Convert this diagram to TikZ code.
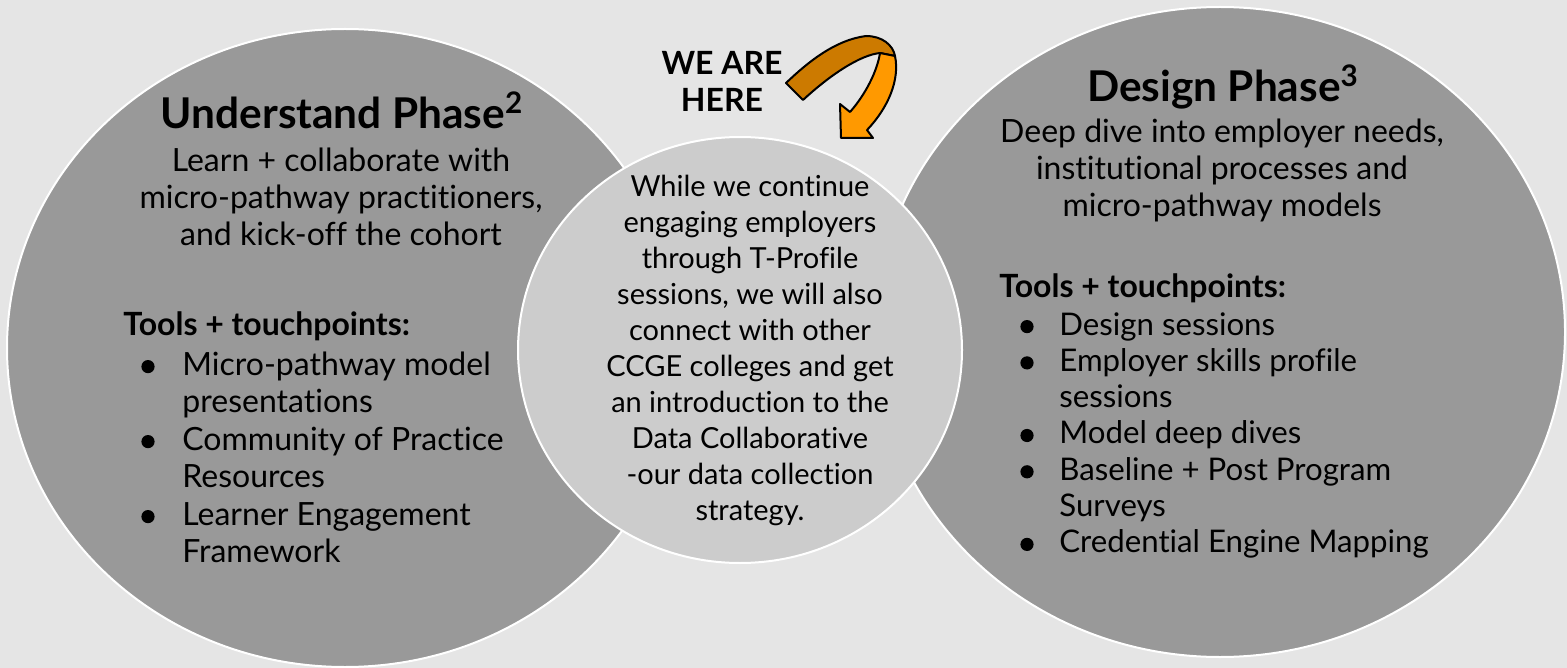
\documentclass[tikz,border=0pt]{standalone}
\usepackage{fontspec}
\setmainfont{Lato}[Ligatures=NoCommon]
\usepackage{xcolor}
\usepackage{tikz}
\usetikzlibrary{shapes.geometric,positioning}

\definecolor{bggray}{HTML}{E5E5E5}
\definecolor{phasegray}{HTML}{999999}
\definecolor{nowgray}{HTML}{CCCCCC}
\definecolor{arrowdark}{HTML}{CC7A00}
\definecolor{arrowlight}{HTML}{FF9900}

\newcommand{\bdot}{\tikz[baseline=-4.2pt]\fill[black] (0,0) circle (3.3pt);}

\tikzset{
	phase/.style={ellipse, draw=white, line width=1pt, inner sep=0pt},
	title/.style={font=\fontsize{21.2}{25}\selectfont\bfseries, inner sep=0pt, anchor=base},
	body/.style={font=\fontsize{16}{18.5}\selectfont, inner sep=0pt, anchor=base},
	tools/.style={font=\fontsize{16}{19}\selectfont\bfseries, inner sep=0pt, anchor=base west},
	arrowpart/.style={draw=black, line width=1pt, line join=round}
}

\begin{document}
\begin{tikzpicture}[x=0.5pt,y=-0.5pt]
	\fill[bggray] (0,0) rectangle (1567,668);
	\useasboundingbox (0,0) rectangle (1567,668);

	% \draw phase circles
	\node[phase, fill=phasegray, minimum width=338pt, minimum height=319pt] (understand) at (345,348) {};
	\node[phase, fill=phasegray, minimum width=345pt, minimum height=325pt] (design) at (1220,332) {};
	\node[phase, fill=nowgray, minimum width=222pt, minimum height=213pt] (now) at (740,350) {};

	% \draw understand texts
	\node[title] (understandTitle) at (342,129) {Understand Phase\textsuperscript{2}};
	\node[body] (understandText) at (341,172) {\begin{tabular}[t]{@{}c@{}}
		Learn + collaborate with\\
		micro-pathway practitioners,\\
		and kick-off the cohort
		\end{tabular}};
	\node[tools] (understandTools) at (123,335) {Tools + touchpoints:};
	\node[body, anchor=base west, font=\fontsize{16}{18.75}\selectfont] (understandList) at (141,375) {%
		\begin{tabular}[t]{@{}p{20.5pt}@{}l@{}}
		\bdot & Micro-pathway model\\
		      & presentations\\
		\bdot & Community of Practice\\
		      & Resources\\
		\bdot & Learner Engagement\\
		      & Framework
		\end{tabular}};

	% \draw design texts
	\node[title] (designTitle) at (1223,102) {Design Phase\textsuperscript{3}};
	\node[body] (designText) at (1222,143) {\begin{tabular}[t]{@{}c@{}}
		Deep dive into employer needs,\\
		institutional processes and\\
		micro-pathway models
		\end{tabular}};
	\node[tools] (designTools) at (999,297) {Tools + touchpoints:};
	\node[body, anchor=base west, font=\fontsize{15.6}{18.15}\selectfont] (designList) at (1020,335) {%
		\begin{tabular}[t]{@{}p{19.5pt}@{}l@{}}
		\bdot & Design sessions\\
		\bdot & Employer skills profile\\
		      & sessions\\
		\bdot & Model deep dives\\
		\bdot & Baseline + Post Program\\
		      & Surveys\\
		\bdot & Credential Engine Mapping
		\end{tabular}};

	% \draw middle text
	\node[body, font=\fontsize{14.5}{17.95}\selectfont] (nowText) at (750,197) {\begin{tabular}[t]{@{}c@{}}
		While we continue\\
		engaging employers\\
		through T-Profile\\
		sessions, we will also\\
		connect with other\\
		CCGE colleges and get\\
		an introduction to the\\
		Data Collaborative\\
		-our data collection\\
		strategy.
		\end{tabular}};

	% \draw we are here
	\node[body, font=\fontsize{16}{18.5}\selectfont\bfseries] (hereLabel) at (722,75) {\begin{tabular}[t]{@{}c@{}}
		WE ARE\\
		HERE
		\end{tabular}};

	\coordinate (tailA) at (786,83);
	\coordinate (tailB) at (803,100);
	\coordinate (foldIn) at (880,53);
	\coordinate (foldOut) at (895,56);
	\coordinate (notchL) at (850,112);
	\coordinate (barbL) at (840,104);
	\coordinate (tip) at (841,138);
	\coordinate (barbR) at (873,138);
	\coordinate (notchR) at (867,130);

	% \draw curved arrow
	\draw[arrowpart, fill=arrowdark] (tailA) .. controls (808,62) and (835,40) .. (866,36)
		.. controls (882,36) and (893,45) .. (foldOut) -- (foldIn)
		.. controls (860,55) and (830,75) .. (tailB) -- cycle;
	\draw[arrowpart, fill=arrowlight] (foldIn) .. controls (877,72) and (865,95) .. (notchL)
		-- (barbL) -- (tip) -- (barbR) -- (notchR)
		.. controls (888,108) and (900,80) .. (foldOut) -- cycle;
\end{tikzpicture}
\end{document}
